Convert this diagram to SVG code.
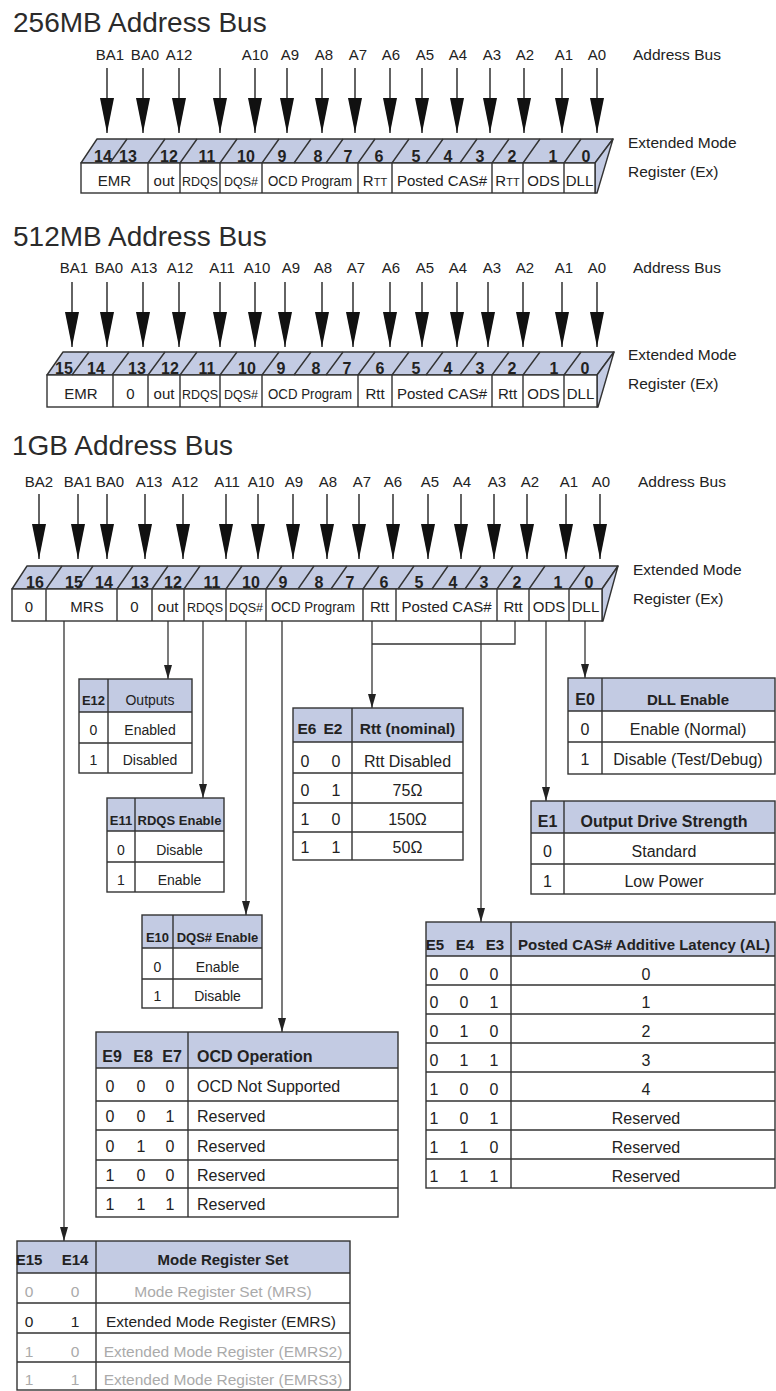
<svg xmlns="http://www.w3.org/2000/svg" width="776" height="1391" viewBox="0 0 776 1391">
<defs>
<style>
text{font-family:"Liberation Sans",Arial,sans-serif;fill:#222}
.ttl{font-size:28px;fill:#2b2b2b}
.ab{font-size:15px;text-anchor:middle}
.side{font-size:15.5px}
.num{font-size:16px;font-weight:bold;text-anchor:middle}
.cl{font-size:15px;text-anchor:middle}
.cs{font-size:12.5px;text-anchor:middle}
.face{fill:#c3cbe3;stroke:#333;stroke-width:1.4;stroke-linejoin:round}
.front{fill:#fff;stroke:#333;stroke-width:1.4}
.ln{stroke:#333;stroke-width:1.4;fill:none}
.bus{stroke:#222;stroke-width:1.4;fill:none;marker-end:url(#big)}
.con{stroke:#333;stroke-width:1.3;fill:none}
.cona{stroke:#333;stroke-width:1.3;fill:none;marker-end:url(#sm)}
.hdr{fill:#c3cbe3}
.tb{fill:none;stroke:#333;stroke-width:1.4}
.tc{text-anchor:middle}
.b{font-weight:bold}
.gr{fill:#aaa}
.s13{font-size:13px}.s14{font-size:14px}.s15{font-size:15px}.s155{font-size:15.5px}.s16{font-size:16px}
</style>
<marker id="big" viewBox="0 0 35 14" refX="35" refY="7" markerWidth="35" markerHeight="14" markerUnits="userSpaceOnUse" orient="auto"><path d="M0,0L35,7L0,14z" fill="#111"/></marker>
<marker id="sm" viewBox="0 0 14 8" refX="14" refY="4" markerWidth="14" markerHeight="8" markerUnits="userSpaceOnUse" orient="auto"><path d="M0,0L14,4L0,8z" fill="#222"/></marker>
</defs>

<!-- ===== 256MB ===== -->
<g id="sec256-title">
<text class="ttl" x="13" y="32">256MB Address Bus</text>
<text class="ab" y="60"><tspan x="110">BA1</tspan><tspan x="145">BA0</tspan><tspan x="179">A12</tspan><tspan x="255">A10</tspan><tspan x="290">A9</tspan><tspan x="324">A8</tspan><tspan x="358">A7</tspan><tspan x="391">A6</tspan><tspan x="425">A5</tspan><tspan x="458">A4</tspan><tspan x="492">A3</tspan><tspan x="525">A2</tspan><tspan x="564">A1</tspan><tspan x="597">A0</tspan></text>
<text class="side" x="633" y="60">Address Bus</text>
<text class="side" x="628" y="148">Extended Mode</text>
<text class="side" x="628" y="177">Register (Ex)</text>
</g>
<g id="reg256">
<polygon class="face" points="81,163 97,139 613,139 595,163"/>
<polygon class="face" points="595,163 613,139 597,193 595,193"/>
<rect class="front" x="81" y="163" width="514" height="30"/>
<path class="ln" d="M148,163V193M180,163V193M220,163V193M262,163V193M358,163V193M392,163V193M492,163V193M523,163V193M564,163V193"/>
<path class="ln" d="M110,163L127,139M148,163L165,139M180,163L197,139M220,163L237,139M262,163L279,139M294,163L311,139M326,163L343,139M358,163L375,139M392,163L409,139M426,163L443,139M460,163L477,139M492,163L509,139M523,163L540,139M564,163L581,139"/>
<text class="num" y="162"><tspan x="103">14</tspan><tspan x="128">13</tspan><tspan x="169">12</tspan><tspan x="207">11</tspan><tspan x="246">10</tspan><tspan x="282">9</tspan><tspan x="318">8</tspan><tspan x="348">7</tspan><tspan x="379">6</tspan><tspan x="416">5</tspan><tspan x="448">4</tspan><tspan x="480">3</tspan><tspan x="512">2</tspan><tspan x="553">1</tspan><tspan x="586">0</tspan></text>
<text class="cl" x="114.5" y="186">EMR</text>
<text class="cl" x="164" y="186">out</text>
<text class="cs" x="200" y="186">RDQS</text>
<text class="cs" x="241" y="186">DQS#</text>
<text class="cl" x="310" y="186" textLength="84" lengthAdjust="spacingAndGlyphs">OCD Program</text>
<text class="cl" x="375" y="186">R<tspan font-size="11">TT</tspan></text>
<text class="cl" x="442" y="186">Posted CAS#</text>
<text class="cl" x="507.5" y="186">R<tspan font-size="11">TT</tspan></text>
<text class="cl" x="543.5" y="186">ODS</text>
<text class="cl" x="579.5" y="186">DLL</text>
</g>

<!-- ===== 512MB ===== -->
<g id="sec512-title">
<text class="ttl" x="13" y="246">512MB Address Bus</text>
<text class="ab" y="273"><tspan x="74">BA1</tspan><tspan x="109">BA0</tspan><tspan x="144">A13</tspan><tspan x="180">A12</tspan><tspan x="222">A11</tspan><tspan x="257">A10</tspan><tspan x="291">A9</tspan><tspan x="323">A8</tspan><tspan x="356">A7</tspan><tspan x="391">A6</tspan><tspan x="425">A5</tspan><tspan x="458">A4</tspan><tspan x="492">A3</tspan><tspan x="525">A2</tspan><tspan x="564">A1</tspan><tspan x="597">A0</tspan></text>
<text class="side" x="633" y="273">Address Bus</text>
<text class="side" x="628" y="360">Extended Mode</text>
<text class="side" x="628" y="389">Register (Ex)</text>
</g>
<g id="reg512">
<polygon class="face" points="47,375 63,352 614,352 597,375"/>
<polygon class="face" points="597,375 614,352 598,407 597,407"/>
<rect class="front" x="47" y="375" width="550" height="32"/>
<path class="ln" d="M113,375V407M148,375V407M180,375V407M220,375V407M262,375V407M358,375V407M392,375V407M492,375V407M523,375V407M564,375V407"/>
<path class="ln" d="M72,375L89,352M112,375L129,352M148,375L165,352M180,375L197,352M220,375L237,352M262,375L279,352M294,375L311,352M326,375L343,352M358,375L375,352M392,375L409,352M426,375L443,352M460,375L477,352M492,375L509,352M523,375L540,352M564,375L581,352"/>
<text class="num" y="374"><tspan x="64">15</tspan><tspan x="96">14</tspan><tspan x="137">13</tspan><tspan x="170">12</tspan><tspan x="207">11</tspan><tspan x="247">10</tspan><tspan x="281">9</tspan><tspan x="316">8</tspan><tspan x="347">7</tspan><tspan x="380">6</tspan><tspan x="416">5</tspan><tspan x="448">4</tspan><tspan x="480">3</tspan><tspan x="512">2</tspan><tspan x="554">1</tspan><tspan x="585">0</tspan></text>
<text class="cl" x="81" y="399">EMR</text>
<text class="cl" x="130.5" y="399">0</text>
<text class="cl" x="164" y="399">out</text>
<text class="cs" x="200" y="399">RDQS</text>
<text class="cs" x="241" y="399">DQS#</text>
<text class="cl" x="310" y="399" textLength="84" lengthAdjust="spacingAndGlyphs">OCD Program</text>
<text class="cl" x="375" y="399">Rtt</text>
<text class="cl" x="442" y="399">Posted CAS#</text>
<text class="cl" x="507.5" y="399">Rtt</text>
<text class="cl" x="543.5" y="399">ODS</text>
<text class="cl" x="580.5" y="399">DLL</text>
</g>

<!-- ===== 1GB ===== -->
<g id="sec1g-title">
<text class="ttl" x="12" y="455">1GB Address Bus</text>
<text class="ab" y="487"><tspan x="39">BA2</tspan><tspan x="78">BA1</tspan><tspan x="110">BA0</tspan><tspan x="149">A13</tspan><tspan x="185">A12</tspan><tspan x="227">A11</tspan><tspan x="261">A10</tspan><tspan x="294">A9</tspan><tspan x="328">A8</tspan><tspan x="362">A7</tspan><tspan x="393">A6</tspan><tspan x="430">A5</tspan><tspan x="462">A4</tspan><tspan x="497">A3</tspan><tspan x="530">A2</tspan><tspan x="569">A1</tspan><tspan x="601">A0</tspan></text>
<text class="side" x="638" y="487">Address Bus</text>
<text class="side" x="633" y="575">Extended Mode</text>
<text class="side" x="633" y="604">Register (Ex)</text>
</g>
<g id="reg1g">
<polygon class="face" points="12,589 27,566 618,566 602,589"/>
<polygon class="face" points="602,589 618,566 603,621 602,621"/>
<rect class="front" x="12" y="589" width="590" height="32"/>
<path class="ln" d="M46,589V621M117,589V621M152,589V621M184,589V621M226,589V621M266,589V621M363,589V621M396,589V621M497,589V621M529,589V621M569,589V621"/>
<path class="ln" d="M46,589L62,566M77,589L93,566M117,589L133,566M152,589L168,566M184,589L200,566M226,589L242,566M266,589L282,566M298,589L314,566M331,589L347,566M363,589L379,566M398,589L414,566M432,589L448,566M465,589L481,566M497,589L513,566M529,589L545,566M569,589L585,566"/>
<text class="num" y="588"><tspan x="35">16</tspan><tspan x="74">15</tspan><tspan x="104">14</tspan><tspan x="140">13</tspan><tspan x="173">12</tspan><tspan x="212">11</tspan><tspan x="251">10</tspan><tspan x="283">9</tspan><tspan x="319">8</tspan><tspan x="350">7</tspan><tspan x="384">6</tspan><tspan x="419">5</tspan><tspan x="453">4</tspan><tspan x="484">3</tspan><tspan x="517">2</tspan><tspan x="558">1</tspan><tspan x="589">0</tspan></text>
<text class="cl" x="29" y="612">0</text>
<text class="cl" x="87" y="612">MRS</text>
<text class="cl" x="134.5" y="612">0</text>
<text class="cl" x="168" y="612">out</text>
<text class="cs" x="205" y="612">RDQS</text>
<text class="cs" x="246" y="612">DQS#</text>
<text class="cl" x="313" y="612" textLength="84" lengthAdjust="spacingAndGlyphs">OCD Program</text>
<text class="cl" x="379.5" y="612">Rtt</text>
<text class="cl" x="446.5" y="612">Posted CAS#</text>
<text class="cl" x="513" y="612">Rtt</text>
<text class="cl" x="549" y="612">ODS</text>
<text class="cl" x="585.5" y="612">DLL</text>
</g>

<!-- ===== connectors ===== -->
<g id="connectors">
<path class="bus" d="M107,68V133"/><path class="bus" d="M143,68V133"/><path class="bus" d="M179,68V133"/><path class="bus" d="M220,68V133"/><path class="bus" d="M255,68V133"/><path class="bus" d="M287,68V133"/><path class="bus" d="M322,68V133"/><path class="bus" d="M355,68V133"/><path class="bus" d="M390,68V133"/><path class="bus" d="M422,68V133"/><path class="bus" d="M457,68V133"/><path class="bus" d="M490,68V133"/><path class="bus" d="M524,68V133"/><path class="bus" d="M562,68V133"/><path class="bus" d="M597,68V133"/>
<path class="bus" d="M72,282V347"/><path class="bus" d="M107,282V347"/><path class="bus" d="M143,282V347"/><path class="bus" d="M179,282V347"/><path class="bus" d="M220,282V347"/><path class="bus" d="M255,282V347"/><path class="bus" d="M285,282V347"/><path class="bus" d="M322,282V347"/><path class="bus" d="M353,282V347"/><path class="bus" d="M390,282V347"/><path class="bus" d="M422,282V347"/><path class="bus" d="M457,282V347"/><path class="bus" d="M488,282V347"/><path class="bus" d="M523,282V347"/><path class="bus" d="M562,282V347"/><path class="bus" d="M597,282V347"/>
<path class="bus" d="M39,494V559"/><path class="bus" d="M78,494V559"/><path class="bus" d="M107,494V559"/><path class="bus" d="M145,494V559"/><path class="bus" d="M183,494V559"/><path class="bus" d="M226,494V559"/><path class="bus" d="M258,494V559"/><path class="bus" d="M293,494V559"/><path class="bus" d="M327,494V559"/><path class="bus" d="M359,494V559"/><path class="bus" d="M393,494V559"/><path class="bus" d="M428,494V559"/><path class="bus" d="M461,494V559"/><path class="bus" d="M494,494V559"/><path class="bus" d="M527,494V559"/><path class="bus" d="M566,494V559"/><path class="bus" d="M600,494V559"/>
<path class="cona" d="M64,621V1241"/>
<path class="cona" d="M168,621V679"/>
<path class="cona" d="M203,621V798"/>
<path class="cona" d="M246,621V915"/>
<path class="cona" d="M282,621V1032"/>
<path class="cona" d="M372,621V708"/>
<path class="con" d="M372,644H515V621"/>
<path class="cona" d="M481,621V922"/>
<path class="cona" d="M546,621V801"/>
<path class="cona" d="M585,621V678"/>
</g>

<!-- ===== tables ===== -->
<g id="tbl-e12">
<rect class="hdr" x="79" y="679" width="113" height="33"/>
<rect class="tb" x="79" y="679" width="113" height="94"/>
<path class="tb" d="M79,712H192M79,743H192M108,679V773"/>
<text class="tc b s13" x="93.5" y="705">E12</text>
<text class="tc s14" x="150" y="705">Outputs</text>
<text class="tc s14" x="93.5" y="735">0</text><text class="tc s14" x="150" y="735">Enabled</text>
<text class="tc s14" x="93.5" y="765">1</text><text class="tc s14" x="150" y="765">Disabled</text>
</g>
<g id="tbl-e11">
<rect class="hdr" x="107" y="798" width="117" height="33"/>
<rect class="tb" x="107" y="798" width="117" height="94"/>
<path class="tb" d="M107,831H224M107,862H224M135,798V892"/>
<text class="tc b s13" x="121" y="825">E11</text>
<text class="tc b s13" x="179.5" y="825">RDQS Enable</text>
<text class="tc s14" x="121" y="855">0</text><text class="tc s14" x="179.5" y="855">Disable</text>
<text class="tc s14" x="121" y="885">1</text><text class="tc s14" x="179.5" y="885">Enable</text>
</g>
<g id="tbl-e10">
<rect class="hdr" x="142" y="915" width="120" height="33"/>
<rect class="tb" x="142" y="915" width="120" height="93"/>
<path class="tb" d="M142,948H262M142,979H262M173,915V1008"/>
<text class="tc b s13" x="157.5" y="942">E10</text>
<text class="tc b s13" x="217.5" y="942">DQS# Enable</text>
<text class="tc s14" x="157.5" y="972">0</text><text class="tc s14" x="217.5" y="972">Enable</text>
<text class="tc s14" x="157.5" y="1001">1</text><text class="tc s14" x="217.5" y="1001">Disable</text>
</g>
<g id="tbl-ocd">
<rect class="hdr" x="96" y="1032" width="302" height="36"/>
<rect class="tb" x="96" y="1032" width="302" height="185"/>
<path class="tb" d="M96,1068H398M96,1101H398M96,1130H398M96,1160H398M96,1188H398M188,1032V1217"/>
<text class="tc b s16" y="1062"><tspan x="112">E9</tspan><tspan x="143">E8</tspan><tspan x="172">E7</tspan></text>
<text class="b s16" x="197" y="1062">OCD Operation</text>
<text class="tc s16" y="1092"><tspan x="110">0</tspan><tspan x="141">0</tspan><tspan x="170">0</tspan></text><text class="s16" x="197" y="1092">OCD Not Supported</text>
<text class="tc s16" y="1122"><tspan x="110">0</tspan><tspan x="141">0</tspan><tspan x="170">1</tspan></text><text class="s16" x="197" y="1122">Reserved</text>
<text class="tc s16" y="1152"><tspan x="110">0</tspan><tspan x="141">1</tspan><tspan x="170">0</tspan></text><text class="s16" x="197" y="1152">Reserved</text>
<text class="tc s16" y="1181"><tspan x="110">1</tspan><tspan x="141">0</tspan><tspan x="170">0</tspan></text><text class="s16" x="197" y="1181">Reserved</text>
<text class="tc s16" y="1210"><tspan x="110">1</tspan><tspan x="141">1</tspan><tspan x="170">1</tspan></text><text class="s16" x="197" y="1210">Reserved</text>
</g>
<g id="tbl-mrs">
<rect class="hdr" x="17" y="1241" width="333" height="32"/>
<rect class="tb" x="17" y="1241" width="333" height="149"/>
<path class="tb" d="M17,1273H350M17,1303H350M17,1333H350M17,1362H350M96,1241V1390"/>
<text class="tc b s15" y="1265"><tspan x="29">E15</tspan><tspan x="75">E14</tspan></text>
<text class="tc b s15" x="223" y="1265">Mode Register Set</text>
<text class="tc s155 gr" y="1297"><tspan x="29">0</tspan><tspan x="75">0</tspan></text><text class="tc s155 gr" x="223" y="1297">Mode Register Set (MRS)</text>
<text class="tc s155" y="1327"><tspan x="29">0</tspan><tspan x="75">1</tspan></text><text class="tc s155" x="221" y="1327">Extended Mode Register (EMRS)</text>
<text class="tc s155 gr" y="1357"><tspan x="29">1</tspan><tspan x="75">0</tspan></text><text class="tc s155 gr" x="223" y="1357">Extended Mode Register (EMRS2)</text>
<text class="tc s155 gr" y="1385"><tspan x="29">1</tspan><tspan x="75">1</tspan></text><text class="tc s155 gr" x="223" y="1385">Extended Mode Register (EMRS3)</text>
</g>
<g id="tbl-rtt">
<rect class="hdr" x="293" y="708" width="170" height="34"/>
<rect class="tb" x="293" y="708" width="170" height="152"/>
<path class="tb" d="M293,742H463M293,773H463M293,803H463M293,832H463M352,708V860"/>
<text class="tc b s155" y="734"><tspan x="307">E6</tspan><tspan x="333">E2</tspan></text>
<text class="tc b s155" x="407.5" y="734">Rtt (nominal)</text>
<text class="tc s16" y="767"><tspan x="305">0</tspan><tspan x="336">0</tspan></text><text class="tc s16" x="407.5" y="767">Rtt Disabled</text>
<text class="tc s16" y="796"><tspan x="305">0</tspan><tspan x="336">1</tspan></text><text class="tc s16" x="407.5" y="796">75Ω</text>
<text class="tc s16" y="825"><tspan x="305">1</tspan><tspan x="336">0</tspan></text><text class="tc s16" x="407.5" y="825">150Ω</text>
<text class="tc s16" y="853"><tspan x="305">1</tspan><tspan x="336">1</tspan></text><text class="tc s16" x="407.5" y="853">50Ω</text>
</g>
<g id="tbl-dll">
<rect class="hdr" x="568" y="678" width="207" height="33"/>
<rect class="tb" x="568" y="678" width="207" height="96"/>
<path class="tb" d="M568,711H775M568,742H775M602,678V774"/>
<text class="tc b s16" x="585" y="705">E0</text>
<text class="tc b s15" x="688" y="705">DLL Enable</text>
<text class="tc s16" x="585" y="735">0</text><text class="tc s16" x="688" y="735">Enable (Normal)</text>
<text class="tc s16" x="585" y="765">1</text><text class="tc s16" x="688" y="765">Disable (Test/Debug)</text>
</g>
<g id="tbl-ods">
<rect class="hdr" x="531" y="801" width="244" height="32"/>
<rect class="tb" x="531" y="801" width="244" height="93"/>
<path class="tb" d="M531,833H775M531,864H775M564,801V894"/>
<text class="tc b s16" x="547.5" y="827">E1</text>
<text class="tc b s16" x="664" y="827">Output Drive Strength</text>
<text class="tc s16" x="547.5" y="857">0</text><text class="tc s16" x="664" y="857">Standard</text>
<text class="tc s16" x="547.5" y="887">1</text><text class="tc s16" x="664" y="887">Low Power</text>
</g>
<g id="tbl-al">
<rect class="hdr" x="426" y="922" width="349" height="34"/>
<rect class="tb" x="426" y="922" width="349" height="266"/>
<path class="tb" d="M426,956H775M426,985H775M426,1014H775M426,1043H775M426,1072H775M426,1101H775M426,1130H775M426,1159H775M511,922V1188"/>
<text class="tc b s15" y="950"><tspan x="435">E5</tspan><tspan x="465">E4</tspan><tspan x="495">E3</tspan></text>
<text class="tc b s15" x="644" y="950" textLength="252" lengthAdjust="spacingAndGlyphs">Posted CAS# Additive Latency (AL)</text>
<text class="tc s16" y="980"><tspan x="434">0</tspan><tspan x="464">0</tspan><tspan x="494">0</tspan></text><text class="tc s16" x="646" y="980">0</text>
<text class="tc s16" y="1008"><tspan x="434">0</tspan><tspan x="464">0</tspan><tspan x="494">1</tspan></text><text class="tc s16" x="646" y="1008">1</text>
<text class="tc s16" y="1037"><tspan x="434">0</tspan><tspan x="464">1</tspan><tspan x="494">0</tspan></text><text class="tc s16" x="646" y="1037">2</text>
<text class="tc s16" y="1066"><tspan x="434">0</tspan><tspan x="464">1</tspan><tspan x="494">1</tspan></text><text class="tc s16" x="646" y="1066">3</text>
<text class="tc s16" y="1095"><tspan x="434">1</tspan><tspan x="464">0</tspan><tspan x="494">0</tspan></text><text class="tc s16" x="646" y="1095">4</text>
<text class="tc s16" y="1124"><tspan x="434">1</tspan><tspan x="464">0</tspan><tspan x="494">1</tspan></text><text class="tc s16" x="646" y="1124">Reserved</text>
<text class="tc s16" y="1153"><tspan x="434">1</tspan><tspan x="464">1</tspan><tspan x="494">0</tspan></text><text class="tc s16" x="646" y="1153">Reserved</text>
<text class="tc s16" y="1182"><tspan x="434">1</tspan><tspan x="464">1</tspan><tspan x="494">1</tspan></text><text class="tc s16" x="646" y="1182">Reserved</text>
</g>
</svg>
